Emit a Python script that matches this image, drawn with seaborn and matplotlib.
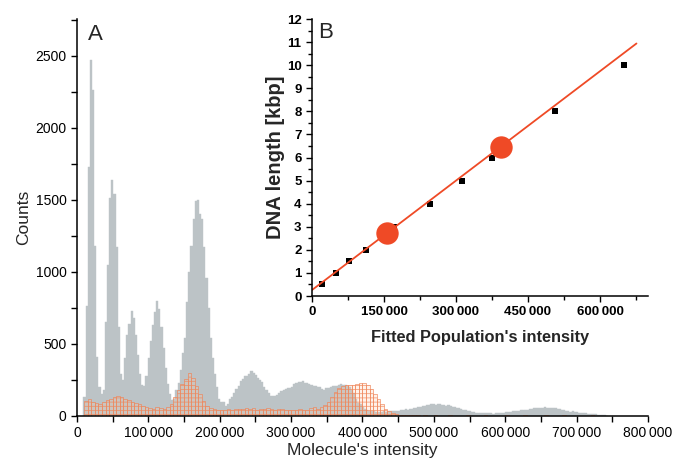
import matplotlib
matplotlib.use("Agg")
import matplotlib.pyplot as plt
import numpy as np
import pandas as pd
import seaborn as sns
from matplotlib.ticker import FuncFormatter, MultipleLocator

# gray histogram: 3000-wide bins starting at 9000
GRAY_START = 9000
GRAY_WIDTH = 3000
gray_counts = [
    130, 760, 1730, 2470, 2260, 1180, 410, 200, 150, 180,
    650, 1050, 1510, 1640, 1540, 1170, 615, 290, 250, 400,
    560, 640, 726, 680, 560, 420, 290, 215, 210, 280,
    400, 520, 630, 720, 795, 740, 620, 470, 330, 220,
    150, 110, 117, 180, 230, 320, 440, 540, 790, 1000,
    1180, 1370, 1490, 1500, 1400, 1370, 1170, 960, 750, 540,
    400, 290, 200, 120, 100, 95, 70, 85, 115, 135,
    160, 185, 205, 240, 255, 275, 280, 290, 310, 300,
    285, 265, 250, 235, 200, 180, 160, 140, 138, 140,
    145, 160, 170, 180, 188, 192, 195, 200, 220, 232,
    238, 236, 240, 230, 226, 222, 215, 210, 205, 203,
    200, 190, 178, 195, 196, 200, 205, 208, 210, 218,
    220, 218, 212, 208, 198, 180, 160, 120, 90, 80,
    60, 50, 40, 36, 33, 32, 30, 30, 28, 30,
    32, 30, 33, 35, 32, 36, 38, 35, 40, 42,
    46, 45, 48, 46, 52, 56, 60, 62, 68, 70,
    76, 74, 80, 82, 78, 84, 80, 76, 78, 72,
    74, 68, 64, 60, 58, 56, 50, 45, 40, 36,
    34, 30, 26, 24, 22, 24, 22, 20, 18, 20,
    18, 17, 20, 18, 22, 24, 22, 26, 25, 30,
    33, 32, 36, 38, 40, 42, 45, 44, 48, 50,
    52, 55, 54, 58, 56, 60, 55, 58, 54, 52,
    55, 48, 46, 42, 40, 38, 36, 30, 32, 28,
    26, 24, 20, 18, 20, 16, 14, 15, 12, 12,
    10, 8, 6, 4, 3,
]

# orange hatched histogram: 5000-wide bins starting at 10000
ORANGE_START = 10000
ORANGE_WIDTH = 5000
orange_counts = [
    105, 115, 100, 90, 80, 95, 110, 120, 135, 140,
    130, 120, 110, 95, 90, 80, 70, 60, 55, 50,
    60, 55, 50, 60, 85, 130, 180, 225, 260, 295,
    265, 205, 150, 105, 70, 55, 48, 40, 45, 42,
    50, 45, 48, 50, 46, 52, 48, 55, 45, 50,
    46, 52, 48, 44, 50, 46, 45, 40, 44, 42,
    46, 40, 45, 55, 60, 50, 60, 75, 100, 130,
    165, 195, 210, 218, 215, 218, 222, 226, 230, 215,
    190, 150, 115, 80, 50, 32, 22, 15, 10, 8,
    6, 5, 4, 5, 3, 4, 2, 3, 4, 2,
    3, 2, 4, 3, 2, 3, 2, 4, 2, 3,
    2, 3, 4, 2, 3, 2, 3, 2, 4, 3,
    2, 3, 2, 4, 3, 2, 3, 2, 3, 4,
    2, 3, 2, 3, 4, 2, 3, 2, 3, 2,
    3, 2, 4, 3, 2, 3,
]

# inset B: fitted population intensities vs DNA length
marker_x = [20000, 49000, 77000, 112000, 171000, 246000, 313000, 376000, 506000, 650000]
marker_kbp = [0.5, 1, 1.5, 2, 3, 4, 5, 6, 8, 10]
sample_x = [157000, 393000]
sample_kbp = [2.74, 6.46]
fit_x = [0, 676000]
fit_kbp = [0.26, 10.94]

GRAY = "#bcc3c6"
ORANGE = "#ef8458"
RED = "#ef4a26"

sns.set_theme(style="ticks")
plt.rcParams["font.family"] = ["Liberation Sans", "DejaVu Sans"]
plt.rcParams["hatch.linewidth"] = 0.45


def spaced(v, pos):
    return f"{int(round(v)):,}".replace(",", "\u2009")


def hist_frame(start, width, counts):
    centers = start + width * (np.arange(len(counts)) + 0.5)
    return pd.DataFrame({"intensity": centers, "count": counts})


fig = plt.figure(figsize=(6.74, 4.65), dpi=100)
ax = fig.add_axes([0.1142, 0.1054, 0.8472, 0.8538])

gray_df = hist_frame(GRAY_START, GRAY_WIDTH, gray_counts)
sns.histplot(data=gray_df, x="intensity", weights="count", binwidth=GRAY_WIDTH,
             binrange=(GRAY_START, GRAY_START + GRAY_WIDTH * len(gray_counts)),
             ax=ax, element="bars", facecolor=GRAY, edgecolor=GRAY,
             linewidth=0.3, alpha=1)
orange_df = hist_frame(ORANGE_START, ORANGE_WIDTH, orange_counts)
sns.histplot(data=orange_df, x="intensity", weights="count", binwidth=ORANGE_WIDTH,
             binrange=(ORANGE_START, ORANGE_START + ORANGE_WIDTH * len(orange_counts)),
             ax=ax, element="bars", facecolor=(1.0, 0.8, 0.68, 0.25),
             edgecolor=ORANGE, linewidth=0.45, hatch="----")

ax.set_xlim(0, 800000)
ax.set_ylim(0, 2755)
ax.xaxis.set_major_locator(MultipleLocator(100000))
ax.xaxis.set_minor_locator(MultipleLocator(50000))
ax.yaxis.set_major_locator(MultipleLocator(500))
ax.yaxis.set_minor_locator(MultipleLocator(250))
ax.xaxis.set_major_formatter(FuncFormatter(spaced))
ax.tick_params(which="both", direction="out", width=1, colors="black",
               labelsize=10, length=4)
for s in ["left", "bottom"]:
    ax.spines[s].set_linewidth(1.1)
    ax.spines[s].set_color("black")
sns.despine(ax=ax)
ax.set_xlabel("Molecule's intensity", fontsize=12.5, labelpad=2)
ax.set_ylabel("Counts", fontsize=12.5, labelpad=3)
ax.text(0.019, 0.987, "A", transform=ax.transAxes, fontsize=16, va="top")

# inset
ins = fig.add_axes([0.4629, 0.3634, 0.4985, 0.5957])
ins.patch.set_alpha(0)
sns.lineplot(x=fit_x, y=fit_kbp, ax=ins, color=RED, linewidth=1.3)
sns.scatterplot(x=marker_x, y=marker_kbp, ax=ins, marker="s", color="black",
                s=22, linewidth=0)
sns.scatterplot(x=sample_x, y=sample_kbp, ax=ins, marker="o", color=RED,
                s=260, linewidth=0)
ins.set_xlim(0, 700000)
ins.set_ylim(0, 12)
ins.xaxis.set_major_locator(MultipleLocator(150000))
ins.xaxis.set_minor_locator(MultipleLocator(75000))
ins.yaxis.set_major_locator(MultipleLocator(1))
ins.yaxis.set_minor_locator(MultipleLocator(0.5))
ins.xaxis.set_major_formatter(FuncFormatter(spaced))
ins.tick_params(which="both", direction="out", width=1, colors="black",
                labelsize=9.5)
ins.tick_params(which="major", length=4)
ins.tick_params(which="minor", length=3)
for lab in ins.get_xticklabels() + ins.get_yticklabels():
    lab.set_fontweight("bold")
for s in ["left", "bottom"]:
    ins.spines[s].set_linewidth(1.1)
    ins.spines[s].set_color("black")
sns.despine(ax=ins)
ins.set_xlabel("Fitted Population's intensity", fontsize=11.8,
               fontweight="bold", labelpad=8)
ins.set_ylabel("DNA length [kbp]", fontsize=14.5, fontweight="bold", labelpad=1)
ins.text(0.018, 0.99, "B", transform=ins.transAxes, fontsize=16, va="top")

fig.savefig("out.png", dpi=100)
